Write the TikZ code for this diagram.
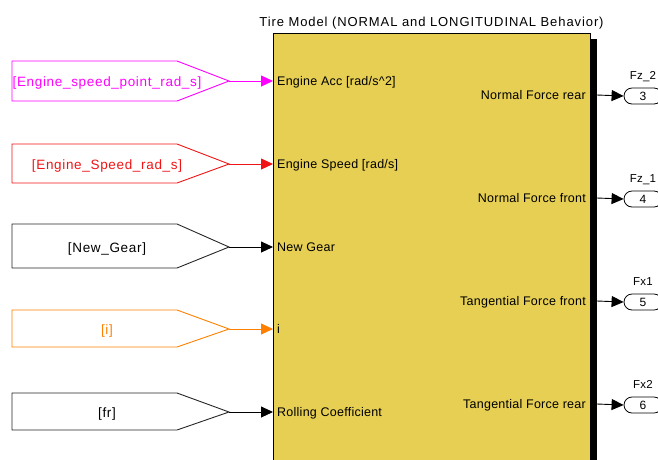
\documentclass[tikz,border=0pt]{standalone}
\usepackage{fontspec}
\setmainfont{Liberation Sans}
\newfontfamily\gotofont[LetterSpace=5]{Liberation Sans}
\newfontfamily\titlefont[LetterSpace=7]{Liberation Sans}
\newfontfamily\portfont[LetterSpace=2]{Liberation Sans}
\usetikzlibrary{arrows.meta,shapes.misc}
\definecolor{blockfill}{RGB}{230,207,82}
\definecolor{gmag}{RGB}{255,0,255}
\definecolor{gred}{RGB}{240,20,20}
\definecolor{gorange}{RGB}{255,128,0}
\begin{document}
\begin{tikzpicture}[x=1pt,y=-1pt,
  sig/.style={-{Triangle[length=12pt,width=11pt]}, line width=0.9pt},
  gotobox/.style={line width=0.9pt},
  gototext/.style={font=\gotofont\fontsize{13.5}{15}\selectfont, inner sep=0pt, anchor=base},
  inlabel/.style={font=\portfont\fontsize{12.5}{14}\selectfont, inner sep=0pt, anchor=base west},
  outlabel/.style={font=\portfont\fontsize{12.5}{14}\selectfont, inner sep=0pt, anchor=base east},
  outport/.style={draw, rounded rectangle, minimum width=38pt, minimum height=16pt, inner sep=0pt, line width=0.8pt, font=\fontsize{12}{14}\selectfont},
  portname/.style={font=\portfont\fontsize{11.5}{13}\selectfont, inner sep=0pt, anchor=base}
]
\useasboundingbox (0,0) rectangle (658,459);

% main block with shadow
\fill[black] (590,39) rectangle (597,470);
\node[draw, fill=blockfill, line width=0.8pt, anchor=north west, minimum width=317pt, minimum height=440pt, inner sep=0pt] (blk) at (273,33) {};
\node[font=\titlefont\fontsize{13}{15}\selectfont, inner sep=0pt, anchor=base] (title) at (431.5,26) {Tire Model (NORMAL and LONGITUDINAL Behavior)};

% goto blocks
\draw[gotobox, gmag] (12,61) -- (177,61) -- (229,81) -- (177,101) -- (12,101) -- cycle;
\node[gototext, text=gmag] (g1) at (107,86) {[Engine\_speed\_point\_rad\_s]};
\coordinate (g1t) at (229,81);

\draw[gotobox, gred] (12,144) -- (177,144) -- (229,164) -- (177,183) -- (12,183) -- cycle;
\node[gototext, text=gred] (g2) at (107,169) {[Engine\_Speed\_rad\_s]};
\coordinate (g2t) at (229,164);

\draw[gotobox, black!85] (12,224) -- (177,224) -- (229,247) -- (177,268) -- (12,268) -- cycle;
\node[gototext] (g3) at (107,252) {[New\_Gear]};
\coordinate (g3t) at (229,247);

\draw[gotobox, gorange] (12,310) -- (177,310) -- (229,329) -- (177,347) -- (12,347) -- cycle;
\node[gototext, text=gorange] (g4) at (107,334) {[i]};
\coordinate (g4t) at (229,329);

\draw[gotobox, black!85] (12,393) -- (177,393) -- (229,412) -- (177,430) -- (12,430) -- cycle;
\node[gototext] (g5) at (107,417) {[fr]};
\coordinate (g5t) at (229,412);

% input ports on block
\coordinate (in1) at (273,81);
\coordinate (in2) at (273,164);
\coordinate (in3) at (273,247);
\coordinate (in4) at (273,329);
\coordinate (in5) at (273,412);
\node[inlabel] (l1) at (277,85.5) {Engine Acc [rad/s\^{}2]};
\node[inlabel] (l2) at (277,168.5) {Engine Speed [rad/s]};
\node[inlabel] (l3) at (277,251.5) {New Gear};
\node[inlabel] (l4) at (277,333.5) {i};
\node[inlabel] (l5) at (277,416.5) {Rolling Coefficient};

\draw[sig, gmag] (g1t) -- (in1);
\draw[sig, gred] (g2t) -- (in2);
\draw[sig, black] (g3t) -- (in3);
\draw[sig, gorange] (g4t) -- (in4);
\draw[sig, black] (g5t) -- (in5);

% output side
\node[outlabel] (r1) at (586,99.5) {Normal Force rear};
\node[outlabel] (r2) at (586,202.5) {Normal Force front};
\node[outlabel] (r3) at (586,305.5) {Tangential Force front};
\node[outlabel] (r4) at (586,408.5) {Tangential Force rear};

\coordinate (o1) at (597,95);
\coordinate (o2) at (597,198);
\coordinate (o3) at (597,301);
\coordinate (o4) at (597,404);

\node[outport] (p3) at (643,96) {3};
\node[outport] (p4) at (643,199) {4};
\node[outport] (p5) at (643,302) {5};
\node[outport] (p6) at (643,405) {6};

\node[portname] (n3) at (643,79) {Fz\_2};
\node[portname] (n4) at (643,182) {Fz\_1};
\node[portname] (n5) at (643,285) {Fx1};
\node[portname] (n6) at (643,388) {Fx2};

\draw[sig] (o1) -- (p3.west);
\draw[sig] (o2) -- (p4.west);
\draw[sig] (o3) -- (p5.west);
\draw[sig] (o4) -- (p6.west);
\end{tikzpicture}
\end{document}
